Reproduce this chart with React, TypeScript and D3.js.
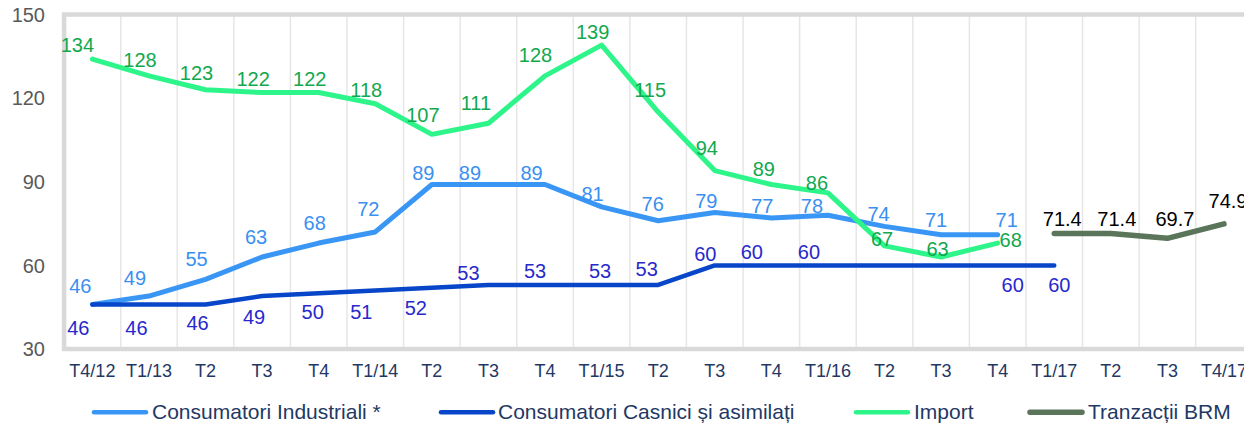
import React from "react";
import * as d3 from "d3";

const categories = ["T4/12","T1/13","T2","T3","T4","T1/14","T2","T3","T4","T1/15","T2","T3","T4","T1/16","T2","T3","T4","T1/17","T2","T3","T4/17"];
const yTicks = [30, 60, 90, 120, 150];

const industrialValues: (number | null)[] = [46,49,55,63,68,72,89,89,89,81,76,79,77,78,74,71,71,null,null,null,null];
const casniciValues: (number | null)[] = [46,46,46,49,50,51,52,53,53,53,53,60,60,60,60,60,60,60,null,null,null];
const importValues: (number | null)[] = [134,128,123,122,122,118,107,111,128,139,115,94,89,86,67,63,68,null,null,null,null];
const brmValues: (number | null)[] = [null,null,null,null,null,null,null,null,null,null,null,null,null,null,null,null,null,71.4,71.4,69.7,74.9];

const seriesNames = ["Consumatori Industriali *", "Consumatori Casnici și asimilați", "Import", "Tranzacții BRM"];

// label offsets (dx, dy of label centre relative to point); null = label hidden
type Off = [number, number] | null;
const industrialLabelOff: Off[] = [[-12,-19],[-14,-18.5],[-9,-21],[-6,-20],[-4,-20],[-7,-23],[-8.5,-12],[-18.5,-12],[-13.5,-12],[-9,-13.5],[-5.5,-17],[-8.5,-12],[-9,-12.5],[-16,-9],[-6,-12.5],[-5,-15],[9,-15]];
const casniciLabelOff: Off[] = [[-14,23],[-12.5,23],[-8,18],[-8,20.5],[-6,19],[-14,21.5],[-16,20],[-20,-12.5],[-10,-14],[-1.5,-14],[-11.5,-16],[-9.5,-12],[-19.5,-13.5],[-19,-13.5],null,null,[15,19],[5,19]];
const importLabelOff: Off[] = [[-15,-14],[-9,-16.5],[-9,-17],[-9,-13.5],[-9,-13.5],[-9,-13.5],[-9,-19.5],[-12.5,-20.5],[-9.5,-21.5],[-9,-13],[-8,-22],[-8,-22.5],[-7.5,-16],[-11,-10.5],[-2.5,-7],[-3.5,-8],[13,-3.5]];
const brmLabelOff: Off[] = [...Array(17).fill(null), [8,-15],[6,-15],[7.5,-20],[4,-23]];

const W = 1244, H = 425;
const left = 64.1, band = 56.58;

export default function App() {
  const x = d3.scaleBand<number>().domain(d3.range(categories.length)).range([left, left + band * categories.length]).padding(0);
  const cx = (i: number) => (x(i) as number) + x.bandwidth() / 2;
  const y = d3.scaleLinear().domain([30, 150]).range([349, 14.5]);
  const line = d3.line<number | null>().defined(d => d != null).x((_, i) => cx(i)).y(d => y(d as number));

  const series = [
    { vals: industrialValues, color: "#3a96f5", label: "#3a90f0", width: 5, lw: 4.5, offs: industrialLabelOff, fmt: (v: number) => d3.format("d")(v) },
    { vals: casniciValues, color: "#0746c8", label: "#2828cc", width: 4.5, lw: 4.5, offs: casniciLabelOff, fmt: (v: number) => d3.format("d")(v) },
    { vals: importValues, color: "#2ef58a", label: "#12a84e", width: 5, lw: 4.5, offs: importLabelOff, fmt: (v: number) => d3.format("d")(v) },
    { vals: brmValues, color: "#5a755a", label: "#000000", width: 5.5, lw: 5.5, offs: brmLabelOff, fmt: (v: number) => d3.format(".1f")(v) },
  ];

  const legendItems = [
    { x0: 94, x1: 146, tx: 152 },
    { x0: 441, x1: 493, tx: 498 },
    { x0: 856, x1: 908, tx: 914 },
    { x0: 1030, x1: 1082, tx: 1088 },
  ];
  const font = "Arial, 'Liberation Sans', sans-serif";
  const right = left + band * categories.length;

  return (
    <svg width={W} height={H} style={{ position: "absolute", left: 0, top: 0, background: "#fff" }} fontFamily={font}>
      {d3.range(1, categories.length).map(i => (
        <line key={"g" + i} x1={x(i)} x2={x(i)} y1={y(150)} y2={y(30)} stroke="#e6e6e6" strokeWidth={1.5} />
      ))}
      <path d={`M${right},${y(150)}H${left}V${y(30)}H${right}`} fill="none" stroke="#d9d9d9" strokeWidth={4.5} />
      {yTicks.map(t => (
        <text key={"y" + t} x={45} y={y(t)} dy="0.36em" textAnchor="end" fontSize={20} fill="#595959">{t}</text>
      ))}
      {categories.map((c, i) => (
        <text key={"x" + i} x={cx(i)} y={377} textAnchor="middle" fontSize={18} fill="#1f3864">{c}</text>
      ))}
      {series.map((s, k) => (
        <path key={"l" + k} d={line(s.vals) || ""} fill="none" stroke={s.color} strokeWidth={s.width} strokeLinejoin="round" strokeLinecap="round" />
      ))}
      {series.map((s, k) => (
        <g key={"lb" + k}>
          {s.vals.map((v, i) => {
            const o = s.offs[i];
            if (v == null || !o) return null;
            return (
              <text key={i} x={cx(i) + o[0]} y={y(v) + o[1]} dy="0.36em" textAnchor="middle" fontSize={20} fill={s.label}>{s.fmt(v)}</text>
            );
          })}
        </g>
      ))}
      {legendItems.map((l, k) => (
        <g key={"lg" + k}>
          <line x1={l.x0} x2={l.x1} y1={412.3} y2={412.3} stroke={series[k].color} strokeWidth={series[k].lw} strokeLinecap="round" />
          <text x={l.tx} y={411.3} dy="0.36em" fontSize={21} fill="#1f3864">{seriesNames[k]}</text>
        </g>
      ))}
    </svg>
  );
}
